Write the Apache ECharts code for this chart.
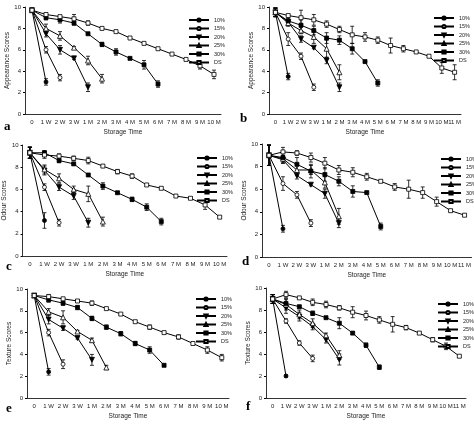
<!DOCTYPE html>
<html>
<head>
<meta charset="utf-8">
<script src="https://cdn.jsdelivr.net/npm/echarts@6/dist/echarts.min.js"></script>
<style>html,body{margin:0;padding:0;background:#fff}#c{width:474px;height:425px}</style>
</head>
<body>
<div id="c"></div>
<script>
var cats10 = ['0', '1 W', '2 W', '3 W', '1 M', '2 M', '3 M', '4 M', '5 M', '6 M', '7 M', '8 M', '9 M', '10 M'];
var cats11 = cats10.concat(['11 M']);
var names = ['10%', '15%', '20%', '25%', '30%', 'DS'];

// a - appearance
var aVals = [
  [9.7, 3.0],
  [9.7, 6.0, 3.4],
  [9.7, 7.5, 6.0, 5.2, 2.5],
  [9.7, 8.0, 7.3, 6.2, 5.0, 3.3],
  [9.7, 9.0, 8.8, 8.5, 7.5, 6.5, 5.8, 5.2, 4.6, 2.8],
  [9.7, 9.3, 9.1, 8.9, 8.5, 8.0, 7.7, 7.1, 6.6, 6.1, 5.6, 5.1, 4.5, 3.7]
];
var aErr = [
  [0.1, 0.3],
  [0.1, 0.3, 0.3],
  [0.1, 0.3, 0.4, 0.1, 0.4],
  [0.1, 0.4, 0.4, 0.1, 0.4, 0.4],
  [0.1, 0.2, 0.3, 0.2, 0.1, 0.2, 0.3, 0.1, 0.4, 0.3],
  [0.1, 0.1, 0.1, 0.4, 0.2, 0.1, 0.1, 0.1, 0.1, 0.1, 0.1, 0.1, 0.3, 0.4]
];
// b - appearance
var bVals = [
  [9.5, 3.5],
  [9.5, 7.0, 5.4, 2.5],
  [9.5, 8.6, 7.0, 6.2, 5.0, 2.5],
  [9.5, 8.5, 7.8, 7.2, 6.1, 3.9],
  [9.5, 8.7, 8.3, 7.8, 7.1, 6.9, 6.1, 4.9, 2.9],
  [9.5, 9.2, 9.0, 8.8, 8.4, 7.9, 7.4, 7.2, 6.9, 6.4, 6.1, 5.8, 5.4, 4.3, 3.9]
];
var bErr = [
  [0.4, 0.3],
  [0.4, 0.6, 0.3, 0.3],
  [0.4, 0.3, 0.3, 0.1, 0.3, 0.4],
  [0.4, 0.3, 0.3, 0.6, 0.8, 0.7],
  [0.4, 0.3, 0.5, 0.4, 0.5, 0.4, 0.5, 0.1, 0.3],
  [0.4, 0.1, 0.7, 0.5, 0.3, 0.3, 0.8, 0.4, 0.3, 0.7, 0.3, 0.1, 0.1, 0.5, 0.7]
];
// c - odour
var cVals = [
  [9.3, 3.2],
  [9.3, 6.2, 3.0],
  [9.3, 7.7, 6.2, 5.4, 3.0],
  [9.3, 7.8, 7.0, 6.0, 5.6, 3.1],
  [9.3, 9.3, 8.6, 8.3, 7.3, 6.3, 5.7, 5.1, 4.4, 3.1],
  [9.3, 9.1, 9.0, 8.8, 8.6, 8.1, 7.6, 7.2, 6.4, 6.1, 5.4, 5.2, 4.6, 3.5]
];
var cErr = [
  [0.5, 0.7],
  [0.5, 0.3, 0.3],
  [0.5, 0.4, 0.3, 0.3, 0.4],
  [0.5, 0.4, 0.4, 0.3, 0.7, 0.4],
  [0.5, 0.2, 0.2, 0.1, 0.1, 0.3, 0.1, 0.2, 0.3, 0.3],
  [0.5, 0.3, 0.2, 0.2, 0.3, 0.1, 0.2, 0.2, 0.1, 0.1, 0.1, 0.1, 0.4, 0.1]
];
// d - odour
var dVals = [
  [9.0, 2.5],
  [9.0, 6.5, 5.5, 3.0],
  [9.0, 8.6, 7.2, 6.4, 5.6, 3.0],
  [9.0, 8.7, 7.7, 7.7, 6.6, 3.6],
  [9.0, 8.8, 8.2, 7.6, 7.3, 6.7, 5.8, 5.7, 2.7],
  [9.0, 9.3, 9.2, 8.8, 8.3, 7.7, 7.5, 7.1, 6.7, 6.2, 6.0, 5.7, 4.9, 4.1, 3.7]
];
var dErr = [
  [0.9, 0.3],
  [0.9, 0.6, 0.3, 0.3],
  [0.9, 0.3, 0.3, 0.1, 0.4, 0.4],
  [0.9, 0.3, 0.5, 0.4, 0.5, 0.7],
  [0.9, 0.5, 0.6, 0.6, 0.6, 0.4, 0.5, 0.1, 0.3],
  [0.9, 0.4, 0.2, 0.4, 0.5, 0.4, 0.4, 0.3, 0.1, 0.3, 0.8, 0.5, 0.4, 0.1, 0.1]
];
// e - texture
var eVals = [
  [9.4, 2.4],
  [9.4, 6.0, 3.1],
  [9.4, 7.2, 6.4, 5.5, 3.5],
  [9.4, 7.9, 7.4, 6.1, 5.3, 2.8],
  [9.4, 9.0, 8.7, 8.3, 7.3, 6.5, 5.9, 5.0, 4.4, 3.0],
  [9.4, 9.3, 9.1, 8.9, 8.7, 8.2, 7.7, 7.0, 6.5, 6.0, 5.6, 5.0, 4.4, 3.7]
];
var eErr = [
  [0.1, 0.3],
  [0.1, 0.3, 0.4],
  [0.1, 0.4, 0.2, 0.1, 0.5],
  [0.1, 0.3, 0.6, 0.1, 0.2, 0.2],
  [0.1, 0.2, 0.2, 0.2, 0.2, 0.2, 0.2, 0.2, 0.3, 0.1],
  [0.1, 0.2, 0.1, 0.1, 0.2, 0.1, 0.1, 0.1, 0.2, 0.1, 0.2, 0.1, 0.3, 0.3]
];
// f - texture
var fVals = [
  [9.0, 2.0],
  [9.0, 7.0, 5.0, 3.6],
  [9.0, 8.2, 7.4, 6.5, 5.3, 3.5],
  [9.0, 8.5, 7.6, 6.8, 5.7, 3.9],
  [9.0, 8.6, 8.3, 7.7, 7.3, 6.8, 5.9, 4.8, 2.8],
  [9.0, 9.4, 9.1, 8.7, 8.5, 8.2, 7.8, 7.5, 7.1, 6.7, 6.4, 5.9, 5.3, 4.7, 3.8]
];
var fErr = [
  [0.4, 0.1],
  [0.4, 0.2, 0.2, 0.3],
  [0.4, 0.5, 0.4, 0.3, 0.3, 0.5],
  [0.4, 0.5, 0.4, 0.4, 0.2, 0.4],
  [0.4, 0.4, 0.1, 0.2, 0.1, 0.5, 0.1, 0.2, 0.2],
  [0.4, 0.3, 0.1, 0.3, 0.3, 0.2, 0.5, 0.4, 0.3, 0.7, 0.2, 0.1, 0.2, 0.3, 0.1]
];

var symbols = ['circle', 'circle', 'triangle', 'triangle', 'rect', 'rect'];
var fills = ['#000', '#fff', '#000', '#fff', '#000', '#fff'];
var rotates = [0, 0, 180, 0, 0, 0];

var panels = [
  {tag: 'a', cats: cats10, vals: aVals, err: aErr, yname: 'Appearance Scores', grid: {left: 25, top: 7, width: 196, height: 107}, legend: [183, 12], tagPos: [4, 120]},
  {tag: 'b', cats: cats11, vals: bVals, err: bErr, yname: 'Appearance Scores', grid: {left: 269, top: 7, width: 192, height: 107}, legend: [428, 10], tagPos: [240, 112]},
  {tag: 'c', cats: cats10, vals: cVals, err: cErr, yname: 'Odour Scores', grid: {left: 21, top: 145, width: 206, height: 111}, legend: [191, 150], tagPos: [6, 260]},
  {tag: 'd', cats: cats11, vals: dVals, err: dErr, yname: 'Odour Scores', grid: {left: 262, top: 144, width: 210, height: 113}, legend: [435, 151], tagPos: [242, 255]},
  {tag: 'e', cats: cats10, vals: eVals, err: eErr, yname: 'Texture Scores', grid: {left: 27, top: 289, width: 202, height: 109}, legend: [190, 291], tagPos: [6, 402]},
  {tag: 'f', cats: cats11, vals: fVals, err: fErr, yname: 'Texture Scores', grid: {left: 266, top: 288, width: 200, height: 110}, legend: [432, 296], tagPos: [246, 400]}
];

var grids = [], xAxes = [], yAxes = [], series = [], legends = [], graphics = [];
var axisFont = {fontSize: 6, color: '#222', fontFamily: 'Liberation Sans'};

panels.forEach(function (p, gi) {
  grids.push(p.grid);
  xAxes.push({
    type: 'category', gridIndex: gi, data: p.cats, boundaryGap: true,
    name: 'Storage Time', nameLocation: 'middle', nameGap: 15,
    nameTextStyle: {fontSize: 6.5, color: '#222', fontFamily: 'Liberation Sans'},
    axisLine: {lineStyle: {color: '#000', width: 0.8}},
    axisTick: {alignWithLabel: true, length: 2, lineStyle: {color: '#000'}},
    axisLabel: Object.assign({interval: 0, margin: 5}, axisFont)
  });
  yAxes.push({
    type: 'value', gridIndex: gi, min: 0, max: 10, interval: 2,
    name: p.yname, nameLocation: 'middle', nameGap: 12,
    nameTextStyle: {fontSize: 6.5, color: '#222', fontFamily: 'Liberation Sans'},
    axisLine: {show: true, lineStyle: {color: '#000', width: 0.8}},
    axisTick: {show: true, length: 2, lineStyle: {color: '#000'}},
    splitLine: {show: false},
    axisLabel: Object.assign({margin: 4}, axisFont)
  });
  p.vals.forEach(function (v, si) {
    series.push({
      name: names[si], type: 'line', xAxisIndex: gi, yAxisIndex: gi,
      data: v, symbol: symbols[si], symbolRotate: rotates[si], symbolSize: si === 2 || si === 3 ? 5 : 4,
      showAllSymbol: true,
      lineStyle: {color: '#000', width: 1}, itemStyle: {color: fills[si], borderColor: '#000', borderWidth: 0.8},
      emphasis: {disabled: true}, z: 3, animation: false
    });
    var eb = v.map(function (y, i) { return [i, y - p.err[si][i], y + p.err[si][i]]; });
    series.push({
      type: 'custom', xAxisIndex: gi, yAxisIndex: gi, data: eb, z: 2, animation: false,
      renderItem: function (params, api) {
        var lo = api.coord([api.value(0), api.value(1)]);
        var hi = api.coord([api.value(0), api.value(2)]);
        var w = 2;
        var st = {stroke: '#000', lineWidth: 0.8};
        return {type: 'group', children: [
          {type: 'line', shape: {x1: lo[0], y1: lo[1], x2: hi[0], y2: hi[1]}, style: st},
          {type: 'line', shape: {x1: lo[0] - w, y1: lo[1], x2: lo[0] + w, y2: lo[1]}, style: st},
          {type: 'line', shape: {x1: hi[0] - w, y1: hi[1], x2: hi[0] + w, y2: hi[1]}, style: st}
        ]};
      }
    });
  });
  legends.push({
    data: names,
    orient: 'vertical', left: p.legend[0], top: p.legend[1], itemWidth: 20, itemHeight: 4, itemGap: 2.5,
    textStyle: {fontSize: 5.5, color: '#222', fontFamily: 'Liberation Sans'}, selectedMode: false
  });
  graphics.push({type: 'text', left: p.tagPos[0], top: p.tagPos[1],
    style: {text: p.tag, fontSize: 13, fontWeight: 'bold', fontFamily: 'Liberation Serif', fill: '#000'}});
});

var chart = echarts.init(document.getElementById('c'), null, {renderer: 'canvas'});
chart.setOption({
  animation: false,
  grid: grids, xAxis: xAxes, yAxis: yAxes, series: series, legend: legends, graphic: graphics
});
</script>
</body>
</html>
